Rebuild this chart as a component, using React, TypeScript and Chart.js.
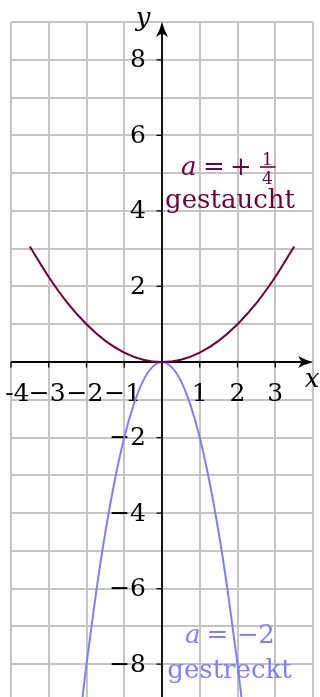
import React, { useEffect, useRef } from "react";
import { Chart, registerables } from "chart.js";

Chart.register(...registerables);

// axis ranges
const X_MIN = -4;
const X_MAX = 4;
const Y_MIN = -9;
const Y_MAX = 9;

// a = +1/4 (gestaucht)
const stauchX = [-3.5, -3, -2.5, -2, -1.5, -1, -0.5, 0, 0.5, 1, 1.5, 2, 2.5, 3, 3.5];
const stauchY = [3.06, 2.25, 1.56, 1, 0.56, 0.25, 0.06, 0, 0.06, 0.25, 0.56, 1, 1.56, 2.25, 3.06];

// a = -2 (gestreckt)
const streckX = [-2.15, -2, -1.75, -1.5, -1.25, -1, -0.75, -0.5, -0.25, 0, 0.25, 0.5, 0.75, 1, 1.25, 1.5, 1.75, 2, 2.15];
const streckY = [-9.25, -8, -6.13, -4.5, -3.13, -2, -1.13, -0.5, -0.13, 0, -0.13, -0.5, -1.13, -2, -3.13, -4.5, -6.13, -8, -9.25];

// tick labels
const xTickValues = [-4, -3, -2, -1, 1, 2, 3];
const xTickLabels = ["-4", "−3", "−2", "−1", "1", "2", "3"];
const yTickValues = [8, 6, 4, 2, -2, -4, -6, -8];
const yTickLabels = ["8", "6", "4", "2", "−2", "−4", "−6", "−8"];

const DARK = "#6b0039";
const BLUE = "#7f7fff";
const SERIF = "'DejaVu Serif', serif";

function arrowHead(ctx: CanvasRenderingContext2D, tx: number, ty: number, dir: "right" | "up") {
  ctx.save();
  ctx.translate(tx, ty);
  if (dir === "up") ctx.rotate(-Math.PI / 2);
  ctx.beginPath();
  ctx.moveTo(0, 0);
  ctx.quadraticCurveTo(-7.5, -2, -15, -6);
  ctx.quadraticCurveTo(-12.3, -2.2, -11.8, 0);
  ctx.quadraticCurveTo(-12.3, 2.2, -15, 6);
  ctx.quadraticCurveTo(-7.5, 2, 0, 0);
  ctx.closePath();
  ctx.fillStyle = "#000";
  ctx.fill();
  ctx.restore();
}

const axesPlugin = {
  id: "axesThroughOrigin",
  beforeDatasetsDraw(chart: any) {
    const { ctx, scales } = chart;
    const xs = scales.x;
    const ys = scales.y;
    const x0 = xs.getPixelForValue(0);
    const y0 = ys.getPixelForValue(0);
    const xl = xs.getPixelForValue(X_MIN);
    const xr = xs.getPixelForValue(X_MAX);
    const yt = ys.getPixelForValue(Y_MAX);
    const yb = chart.height;
    ctx.save();
    ctx.strokeStyle = "#000";
    ctx.lineWidth = 1.8;
    ctx.beginPath();
    ctx.moveTo(xl, y0);
    ctx.lineTo(xr - 10, y0);
    ctx.moveTo(x0, yb);
    ctx.lineTo(x0, yt + 10);
    ctx.stroke();
    arrowHead(ctx, xr, y0, "right");
    arrowHead(ctx, x0, yt, "up");

    // tick marks
    ctx.lineWidth = 1.3;
    ctx.beginPath();
    xTickValues.forEach((v) => {
      const px = xs.getPixelForValue(v);
      ctx.moveTo(px, y0);
      ctx.lineTo(px, y0 + 5.5);
    });
    yTickValues.forEach((v) => {
      const py = ys.getPixelForValue(v);
      ctx.moveTo(x0 - 5.5, py);
      ctx.lineTo(x0, py);
    });
    ctx.stroke();

    // tick labels
    ctx.fillStyle = "#000";
    ctx.font = `25px ${SERIF}`;
    ctx.textBaseline = "alphabetic";
    xTickValues.forEach((v, i) => {
      const px = xs.getPixelForValue(v);
      const label = xTickLabels[i];
      if (v === X_MIN) {
        ctx.textAlign = "right";
        ctx.fillText(label, px + 18.5, y0 + 38.5);
      } else {
        ctx.textAlign = "center";
        ctx.fillText(label, v < 0 ? px - 1.5 : px, y0 + 38.5);
      }
    });
    ctx.textAlign = "right";
    ctx.textBaseline = "middle";
    yTickValues.forEach((v, i) => {
      const py = ys.getPixelForValue(v);
      ctx.fillText(yTickLabels[i], x0 - 16, py + 1);
    });

    // axis names
    ctx.font = `italic 26px ${SERIF}`;
    ctx.textBaseline = "alphabetic";
    ctx.textAlign = "center";
    ctx.fillText("y", x0 - 19, yt + 4);
    ctx.fillText("x", xr - 1, y0 + 25);
    ctx.restore();
  },
  afterDatasetsDraw(chart: any) {
    const { ctx } = chart;
    ctx.save();
    ctx.textBaseline = "alphabetic";

    // a = +1/4, gestaucht
    ctx.fillStyle = DARK;
    ctx.strokeStyle = DARK;
    ctx.font = `italic 26px ${SERIF}`;
    ctx.textAlign = "left";
    ctx.fillText("a", 181, 175);
    ctx.font = `26px ${SERIF}`;
    ctx.textAlign = "center";
    ctx.fillText("=", 214, 175);
    ctx.fillText("+", 241, 175);
    ctx.font = `17px ${SERIF}`;
    ctx.fillText("1", 267.5, 164.5);
    ctx.fillText("4", 267.5, 184);
    ctx.lineWidth = 1.6;
    ctx.beginPath();
    ctx.moveTo(260, 167);
    ctx.lineTo(275.5, 167);
    ctx.stroke();
    ctx.font = `26px ${SERIF}`;
    ctx.fillText("gestaucht", 230, 208);

    // a = -2, gestreckt
    ctx.fillStyle = BLUE;
    ctx.font = `italic 26px ${SERIF}`;
    ctx.textAlign = "left";
    ctx.fillText("a", 185, 643);
    ctx.font = `26px ${SERIF}`;
    ctx.textAlign = "center";
    ctx.fillText("=", 217.5, 643);
    ctx.fillText("−", 248, 643);
    ctx.fillText("2", 266.5, 643);
    ctx.fillText("gestreckt", 229.5, 678);
    ctx.restore();
  },
};

export default function App() {
  const canvasRef = useRef<HTMLCanvasElement | null>(null);

  useEffect(() => {
    if (!canvasRef.current) return;
    const chart = new Chart(canvasRef.current, {
      type: "scatter",
      data: {
        datasets: [
          {
            label: "a = +1/4",
            data: stauchX.map((x, i) => ({ x, y: stauchY[i] })),
            showLine: true,
            borderColor: DARK,
            borderWidth: 2,
            pointRadius: 0,
            cubicInterpolationMode: "monotone",
          },
          {
            label: "a = −2",
            data: streckX.map((x, i) => ({ x, y: streckY[i] })),
            showLine: true,
            borderColor: BLUE,
            borderWidth: 2,
            pointRadius: 0,
            cubicInterpolationMode: "monotone",
          },
        ],
      },
      options: {
        responsive: false,
        animation: false,
        devicePixelRatio: 1,
        layout: { padding: { left: 11, right: 7, top: 22, bottom: 18 } },
        plugins: {
          legend: { display: false },
          tooltip: { enabled: false },
          title: { display: false },
        },
        events: [],
        scales: {
          x: {
            type: "linear",
            min: X_MIN,
            max: X_MAX,
            ticks: { display: false, stepSize: 1 },
            grid: { color: "#c4c4c4", lineWidth: 2, drawTicks: false },
            border: { display: false },
          },
          y: {
            type: "linear",
            min: Y_MIN,
            max: Y_MAX,
            ticks: { display: false, stepSize: 1 },
            grid: { color: "#c4c4c4", lineWidth: 2, drawTicks: false },
            border: { display: false },
          },
        },
      },
      plugins: [axesPlugin],
    });
    return () => chart.destroy();
  }, []);

  return (
    <div
      style={{
        position: "absolute",
        left: 0,
        top: 0,
        width: 320,
        height: 697,
        overflow: "hidden",
        background: "#fff",
      }}
    >
      <canvas ref={canvasRef} width={320} height={720} style={{ width: 320, height: 720, display: "block" }} />
    </div>
  );
}
